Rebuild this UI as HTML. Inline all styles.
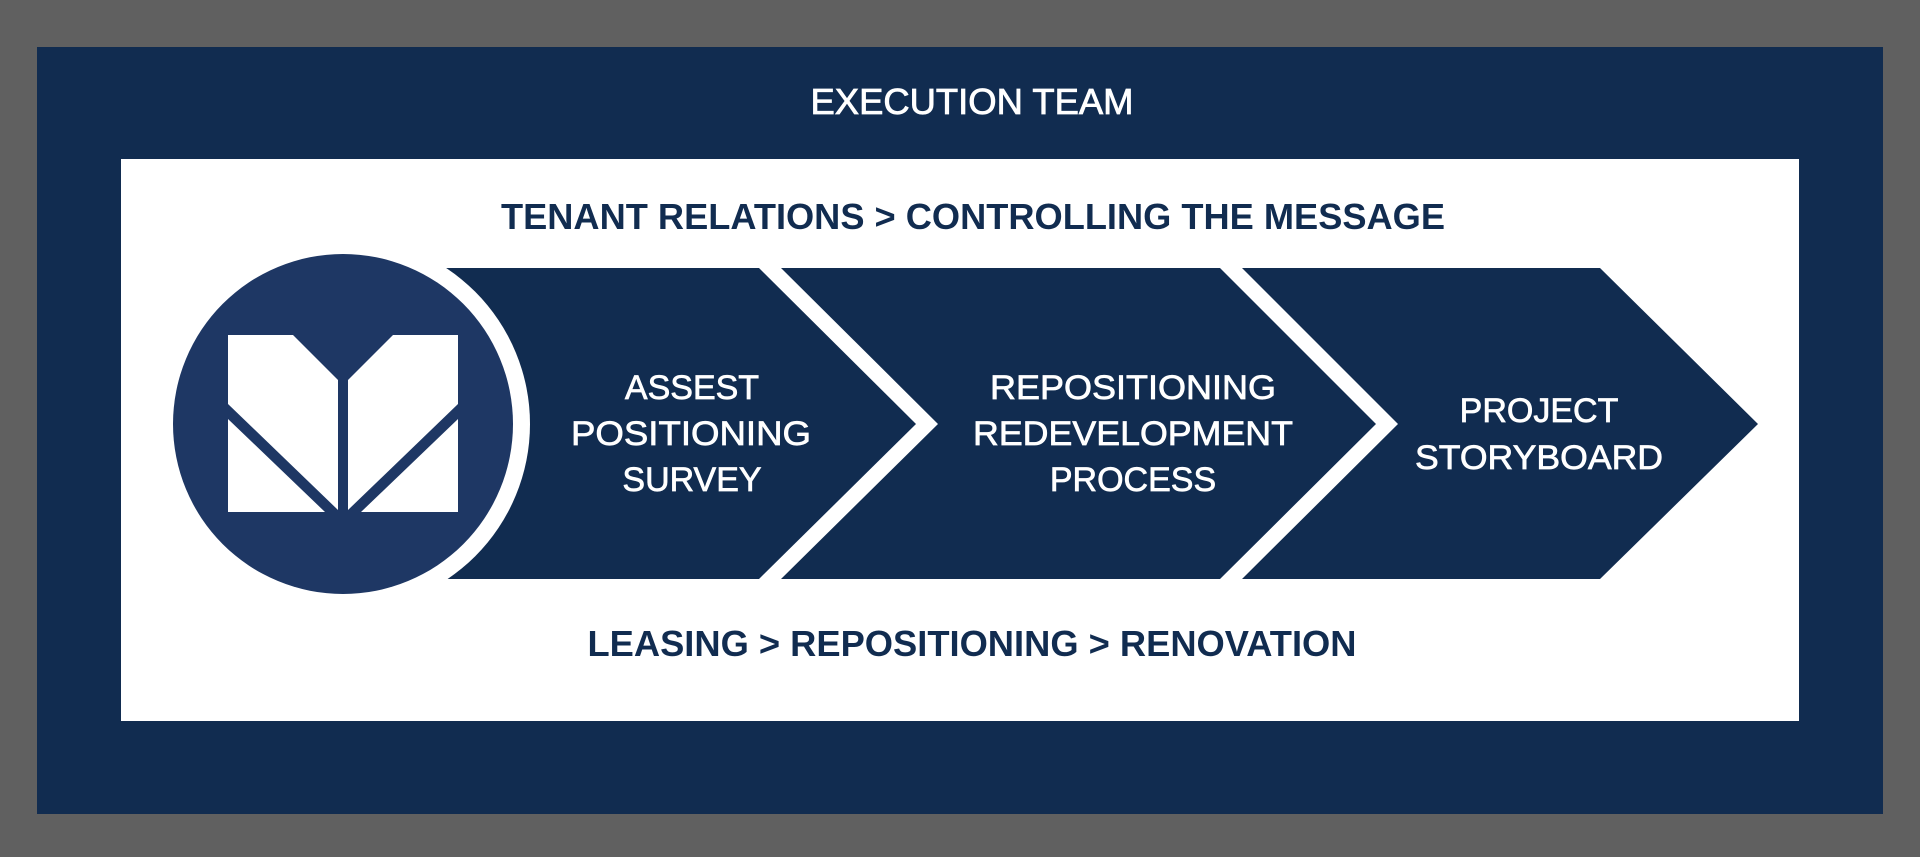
<!DOCTYPE html>
<html><head><meta charset="utf-8"><style>
html,body{margin:0;padding:0;background:#606060;}
svg{display:block;}
text{font-family:"Liberation Sans",sans-serif;}
</style></head><body>
<svg width="1920" height="857" viewBox="0 0 1920 857">
<rect x="0" y="0" width="1920" height="857" fill="#606060"/>
<rect x="37" y="47" width="1846" height="767" fill="#112c50"/>
<text x="972" y="114" fill="#fff" stroke="#fff" stroke-width="0.8" font-size="36" text-anchor="middle" textLength="323" lengthAdjust="spacingAndGlyphs">EXECUTION TEAM</text>
<rect x="121" y="159" width="1678" height="562" fill="#fff"/>
<text x="973" y="229" fill="#112c50" font-size="36" font-weight="bold" text-anchor="middle" textLength="944" lengthAdjust="spacingAndGlyphs">TENANT RELATIONS &gt; CONTROLLING THE MESSAGE</text>
<text x="972" y="656" fill="#112c50" font-size="36" font-weight="bold" text-anchor="middle" textLength="769" lengthAdjust="spacingAndGlyphs">LEASING &gt; REPOSITIONING &gt; RENOVATION</text>
<polygon points="440,268 759,268 916,424 759,579 440,579" fill="#112c50"/>
<polygon points="781,268 1220,268 1376,424 1220,579 781,579 938,424" fill="#112c50"/>
<polygon points="1242,268 1600,268 1758,424 1600,579 1242,579 1398,424" fill="#112c50"/>
<circle cx="343" cy="424" r="187" fill="#fff"/>
<circle cx="343" cy="424" r="170" fill="#1e3764"/>
<g fill="#fff">
<polygon points="228,335 293,335 338,380 338,510 228,404"/>
<polygon points="228,419 228,512 325,512"/>
<polygon points="458,335 393,335 348,380 348,510 458,404"/>
<polygon points="458,419 458,512 361,512"/>
</g>
<g fill="#fff" stroke="#fff" stroke-width="0.7" font-size="34" text-anchor="middle">
<text x="692" y="399">ASSEST</text>
<text x="691" y="445" textLength="240" lengthAdjust="spacingAndGlyphs">POSITIONING</text>
<text x="692" y="491">SURVEY</text>
<text x="1133" y="399" textLength="286" lengthAdjust="spacingAndGlyphs">REPOSITIONING</text>
<text x="1133" y="445" textLength="320" lengthAdjust="spacingAndGlyphs">REDEVELOPMENT</text>
<text x="1133" y="491">PROCESS</text>
<text x="1539" y="422">PROJECT</text>
<text x="1539" y="469" textLength="248" lengthAdjust="spacingAndGlyphs">STORYBOARD</text>
</g>
</svg>
</body></html>
